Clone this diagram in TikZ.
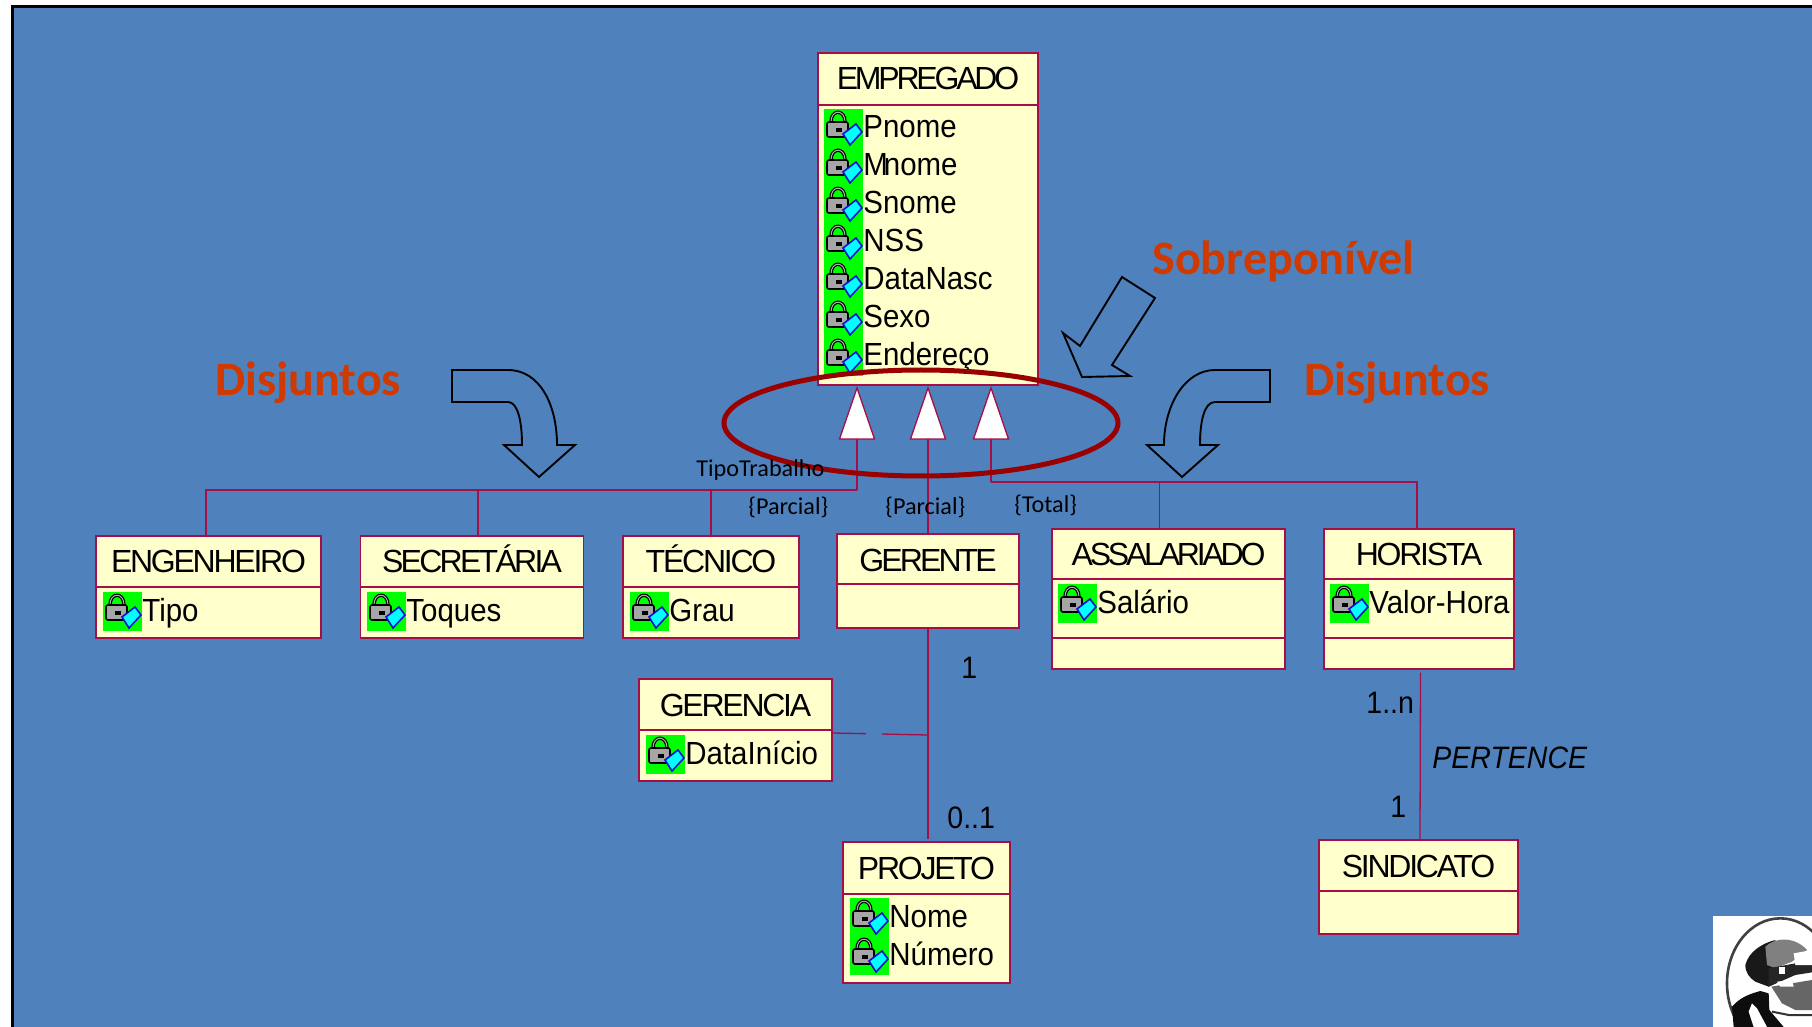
\documentclass[tikz,border=0pt]{standalone}
\usepackage{fontspec}
\usetikzlibrary{fit}
\setmainfont{Liberation Sans}
\newfontfamily\attrfont[FakeStretch=0.92]{Liberation Sans}
\newfontfamily\notefont{Carlito}

\definecolor{slidebg}{HTML}{4F81BD}
\definecolor{umlred}{HTML}{A50F47}
\definecolor{umlfill}{HTML}{FFFFCC}
\definecolor{notered}{HTML}{D03A00}
\definecolor{ringred}{HTML}{990000}
\definecolor{icongreen}{HTML}{00FF00}
\definecolor{iconcyan}{HTML}{00FFFF}
\definecolor{iconblue}{HTML}{1010D0}

\tikzset{
  x=0.5pt,y=-0.5pt,
  umlline/.style={draw=umlred,line width=0.65pt},
  classbox/.style={umlline,fill=umlfill,inner sep=0pt,rectangle},
  classtitle/.style={anchor=base,inner sep=0pt,font=\fontsize{16}{18}\selectfont\addfontfeature{LetterSpace=-7}},
  attrtext/.style={anchor=base west,inner sep=0pt,font=\fontsize{16}{18}\attrfont\selectfont},
  multitext/.style={anchor=base west,inner sep=0pt,font=\fontsize{15.5}{18}\attrfont\selectfont},
  smalltext/.style={anchor=base west,inner sep=0pt,font=\fontsize{12.1}{14}\notefont\selectfont},
  bigtext/.style={anchor=base west,inner sep=0pt,text=notered,font=\fontsize{24}{28}\notefont\bfseries\selectfont},
  blockarrow/.style={draw=black,line width=0.95pt,line join=miter},
  lockicon/.pic={
    \fill [icongreen] (0,0) rectangle (39,39);
    \draw [black,line width=1.7pt] (7,13) .. controls (7,0) and (21,0) .. (21,13);
    \draw [gray!60,line width=0.5pt] (7,13) .. controls (7,0) and (21,0) .. (21,13);
    \draw [black,fill=gray!70,line width=0.8pt,rounded corners=1pt] (3,13) rectangle (24,28);
    \fill [black] (12,19) rectangle (18,23);
    \draw [iconblue,fill=iconcyan,line width=0.8pt] (19,25) -- (32,15) -- (38,23) -- (26,36) -- cycle;
  }
}

\newcommand{\umlclass}[7]{
  \coordinate (#1 nw) at (#2,#3);
  \coordinate (#1 se) at (#4,#6);
  \node [classbox,fit=(#1 nw)(#1 se)] (#1) {};
  \draw [umlline] (#2,#5) -- (#4,#5);
  \node [classtitle] (#1 title) at ({(#2+#4)/2},{#3+37}) {#7};
}
\newcommand{\umlattr}[4]{
  \pic at (#2,#3) {lockicon};
  \node [attrtext] (#1) at (#2+39,#3+29) {#4};
}
\newcommand{\inherit}[2]{
  \coordinate (#1) at (#2,439);
  \draw [umlline,fill=white] (#2-17.5,439) -- (#2,388) -- (#2+17.5,439) -- cycle;
}

\begin{document}
\begin{tikzpicture}
  \useasboundingbox (0,0) rectangle (1812,1027);
  \fill [white] (0,0) rectangle (1812,1027);
  \fill [slidebg] (12.5,6.5) rectangle (1812,1027);
  \draw [black,line width=1.5pt] (1812,6.5) -- (12.5,6.5) -- (12.5,1027);

  \umlclass{empregado}{818}{53}{1038}{105}{385}{\addfontfeature{LetterSpace=-10}EMPREGADO}
  \umlclass{engenheiro}{96}{536}{321}{587}{638}{ENGENHEIRO}
  \umlclass{secretaria}{360.5}{536}{583.5}{587}{638}{\addfontfeature{LetterSpace=-8.5}SECRETÁRIA}
  \umlclass{tecnico}{623}{536}{799}{587}{638}{TÉCNICO}
  \umlclass{gerente}{837}{534}{1019}{584}{628}{\addfontfeature{LetterSpace=-9}GERENTE}
  \umlclass{assalariado}{1052}{529}{1285}{579}{669}{\addfontfeature{LetterSpace=-10}ASSALARIADO}
  \umlclass{horista}{1324}{529}{1514}{579}{669}{HORISTA}
  \umlclass{gerencia}{639}{679}{832}{730}{781}{GERENCIA}
  \umlclass{projeto}{843}{842}{1010}{894}{983}{PROJETO}
  \umlclass{sindicato}{1319}{840}{1518}{891}{934}{SINDICATO}

  \draw [umlline] (1052,638) -- (1285,638);
  \draw [umlline] (1324,638) -- (1514,638);

  \umlattr{pnome}{824}{109}{Pnome}
  \umlattr{mnome}{824}{147}{M\kern-2pt nome}
  \umlattr{snome}{824}{185}{Snome}
  \umlattr{nss}{824}{223}{NSS}
  \umlattr{datanasc}{824}{261}{DataNasc}
  \umlattr{sexo}{824}{299}{Sexo}
  \umlattr{endereco}{824}{337}{Endereço}
  \umlattr{tipo}{103}{592}{Tipo}
  \umlattr{toques}{367}{592}{Toques}
  \umlattr{grau}{630}{592}{Grau}
  \umlattr{salario}{1058}{584}{Salário}
  \umlattr{valorhora}{1330}{584}{Valor-Hora}
  \umlattr{datainicio}{646}{735}{DataInício}
  \umlattr{nome}{850}{898}{Nome}
  \umlattr{numero}{850}{936}{Número}

  \inherit{tri1}{857}
  \inherit{tri2}{928}
  \inherit{tri3}{991}
  \coordinate (hub1) at (857,490);
  \coordinate (hub3) at (991,482);
  \coordinate (hub2) at (928,735);
  \coordinate (gerentetop) at (928,534);
  \coordinate (projetotop) at (928,839);

  \draw [umlline] (tri1) -- (hub1);
  \draw [umlline] (hub1) -| ([xshift=-1.25pt]engenheiro.north);
  \draw [umlline] (hub1) -| ([xshift=3pt]secretaria.north);
  \draw [umlline] (hub1) -| (tecnico.north);
  \draw [umlline] (tri2) -- (gerentetop);
  \draw [umlline] (tri3) -- (hub3);
  \draw [umlline] (hub3) -| ([xshift=-4.5pt]assalariado.north);
  \draw [umlline] (hub3) -| ([xshift=-1pt]horista.north);
  \draw [umlline] (gerente.south) -- (projetotop);
  \draw [umlline,dash pattern=on 23pt off 8pt on 23pt] (hub2) -- (gerencia.east |- 0,733);
  \draw [umlline,shorten <=1.5pt] ([xshift=0.75pt]horista.south) -- ([xshift=0.75pt]sindicato.north);

  % setas
  \draw [blockarrow] (452,370) -- (508,370) .. controls (540,370) and (557,405) .. (557,445)
    -- (575,445) -- (539,477) -- (504,445) -- (522,445) .. controls (522,422) and (518,402) .. (508,402)
    -- (452,402) -- cycle;
  \draw [blockarrow] (1270,370) -- (1215,370) .. controls (1185,370) and (1164,405) .. (1164,445)
    -- (1147,445) -- (1182,477) -- (1218,445) -- (1200,445) .. controls (1200,422) and (1204,402) .. (1215,402)
    -- (1270,402) -- cycle;
  \draw [blockarrow] (1122,277) -- (1155,298) -- (1112,365) -- (1130,376) -- (1082,377) -- (1063,333) -- (1080,346) -- cycle;

  \draw [ringred,line width=2.5pt] (921,423) ellipse (197 and 53);

  \node [bigtext] (disjuntos1) at (215,396) {Disjuntos};
  \node [bigtext] (disjuntos2) at (1304,396) {Disjuntos};
  \node [bigtext] (sobre) at (1152,275) {Sobreponível};

  \node [smalltext] (tipotrabalho) at (696,477) {TipoTrabalho};
  \node [smalltext] (parcial1) at (748,515) {\{Parcial\}};
  \node [smalltext] (parcial2) at (885,515) {\{Parcial\}};
  \node [smalltext] (total) at (1014,513) {\{Total\}};

  \node [multitext] (um1) at (961,678) {1};
  \node [multitext] (zeroum) at (947,828) {0..1};
  \node [multitext] (umn) at (1366,713) {1..n};
  \node [multitext] (um2) at (1390,817) {1};
  \node [multitext,font=\fontsize{15.5}{18}\attrfont\selectfont\itshape] (pertence) at (1432,768) {PERTENCE};

  % retrato
  \begin{scope}
    \clip (1713,916) rectangle (1812,1027);
    \fill [white] (1713,916) rectangle (1812,1027);
    \begin{scope}[shift={(1712,915)},scale=1/3]
      \draw [black!75,line width=1.3pt] (205,205) ellipse (160 and 195);
      \fill [black!90] (100,150) .. controls (110,110) and (150,85) .. (190,75) -- (200,200) -- (170,215) -- (130,200) .. controls (115,190) and (100,175) .. (100,150) -- cycle;
      \fill [black!50] (160,95) .. controls (190,65) and (250,65) .. (285,105) -- (240,140) -- (190,160) -- (165,150) -- cycle;
      \fill [black!85] (170,160) -- (250,145) -- (300,150) -- (300,172) -- (250,180) -- (170,215) -- cycle;
      \fill [white] (200,155) rectangle (220,178);
      \fill [white] (245,115) -- (300,105) -- (300,150) -- (250,150) -- cycle;
      \fill [black!60] (178,215) -- (300,195) -- (300,285) -- (250,285) -- (210,265) -- cycle;
      \fill [white] (195,200) -- (240,195) -- (245,215) -- (205,215) -- cycle;
      \fill [black!95] (60,275) .. controls (85,245) and (120,235) .. (145,228) -- (170,235) -- (172,285) -- (215,336) -- (65,336) -- cycle;
      \fill [white] (120,265) -- (135,280) -- (165,336) -- (125,336) -- (110,290) -- cycle;
      \draw [black!80,line width=1pt] (180,290) -- (230,300) -- (300,300);
    \end{scope}
  \end{scope}
\end{tikzpicture}
\end{document}
